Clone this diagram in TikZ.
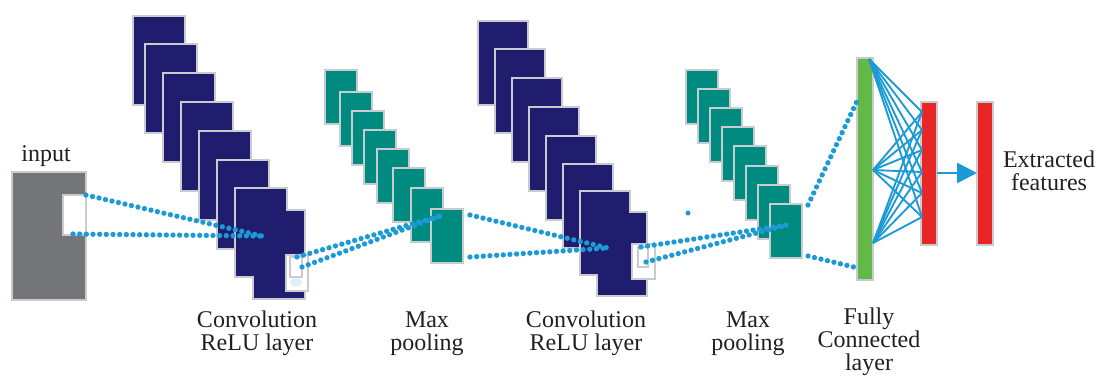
\documentclass[tikz,border=0pt]{standalone}
\usepackage{fontspec}
\setmainfont{Liberation Serif}
\usetikzlibrary{arrows.meta}

\definecolor{navy}{RGB}{32,29,110}
\definecolor{poolteal}{RGB}{0,139,128}
\definecolor{fcgreen}{RGB}{98,185,72}
\definecolor{fcred}{RGB}{233,38,38}
\definecolor{inputgray}{RGB}{116,117,121}
\definecolor{edgegray}{RGB}{200,204,208}
\definecolor{linkblue}{RGB}{28,154,216}
\definecolor{labeltext}{RGB}{35,31,32}

\tikzset{
  fmap/.style={draw=edgegray, line width=1.1pt, inner sep=0pt, outer sep=0pt, anchor=north west},
  convmap/.style={fmap, fill=navy, minimum width=39pt, minimum height=66.75pt},
  convmapb/.style={fmap, fill=navy, minimum width=37.5pt, minimum height=63pt},
  poolmap/.style={fmap, fill=poolteal, minimum width=24pt, minimum height=40.5pt},
  window/.style={fmap, fill=white},
  bar/.style={fmap, minimum width=12pt},
  dotline/.style={linkblue, line width=4pt, line cap=round, dash pattern=on 0pt off 5pt},
  fcline/.style={linkblue, line width=1.4pt},
  % multi-line labels are anchored at the baseline of their last line
  label/.style={font=\fontsize{18}{17}\selectfont, text=labeltext, align=center, inner sep=0pt, anchor=base}
}

\begin{document}
\begin{tikzpicture}[x=0.75pt, y=-0.75pt]
\useasboundingbox (0,0) rectangle (1097,376);

% ---------- input image ----------
\node[fmap, fill=inputgray, minimum width=55.5pt, minimum height=96pt] (in) at (12,172) {};
\node[window, minimum width=17.25pt, minimum height=30pt] (inwin) at (63,195) {};
\node[label] (inlabel) at (46,161) {input};

% ---------- first convolution stack ----------
\foreach \x/\y [count=\i] in {133/16, 145/44, 163/73, 181/102, 199/131, 217/160}
  \node[convmap] (ca\i) at (\x,\y) {};
\node[convmap, draw=none] (ca7) at (235,188) {};
\node[convmap, draw=none] (ca8) at (253,210) {};
\draw[edgegray, line width=1.1pt]
  (ca7.north west) -- (ca7.north east) -- (ca7.north east |- ca8.north)
  -- (ca8.north east) -- (ca8.south east) -- (ca8.south west)
  -- (ca8.south west |- ca7.south) -- (ca7.south west) -- cycle;
\node[window, minimum width=16.5pt, minimum height=27pt] (cawin) at (286,255) {};
\fill[linkblue!15] (296,282) ellipse (6 and 4);
\node[window, minimum width=9pt, minimum height=15pt] (cain) at (290,257) {};

% ---------- first pooling stack ----------
\foreach \x/\y [count=\i] in {325/70, 340/92, 352/111, 364/130, 377/149, 393/168, 411/188, 431/209}
  \node[poolmap] (pa\i) at (\x,\y) {};

% ---------- second convolution stack ----------
\foreach \x/\y [count=\i] in {478/21, 495/49, 512/78, 529/107, 546/136, 563/164}
  \node[convmapb] (cb\i) at (\x,\y) {};
\node[convmapb, draw=none] (cb7) at (580,191) {};
\node[convmapb, draw=none] (cb8) at (597,212) {};
\draw[edgegray, line width=1.1pt]
  (cb7.north west) -- (cb7.north east) -- (cb7.north east |- cb8.north)
  -- (cb8.north east) -- (cb8.south east) -- (cb8.south west)
  -- (cb8.south west |- cb7.south) -- (cb7.south west) -- cycle;
\node[window, minimum width=17.25pt, minimum height=26.25pt] (cbwin) at (632,244) {};
\node[window, minimum width=7.5pt, minimum height=15pt] (cbin) at (638,247) {};

% ---------- second pooling stack ----------
\foreach \x/\y [count=\i] in {686/70, 698/89, 710/108, 722/127, 734/146, 746/166, 758/185, 770/204}
  \node[poolmap] (pb\i) at (\x,\y) {};

% ---------- receptive-field connectors ----------
\coordinate (inlow) at (73,234);
\coordinate (cafocus) at (262,236);
\draw[dotline] (inwin.north east) -- (cafocus);
\draw[dotline] (inlow) -- (cafocus);

\coordinate (caout1) at (297,257);
\coordinate (caout2) at (302,267);
\coordinate (pafocus) at (443,215);
\draw[dotline] (caout1) -- (pafocus);
\draw[dotline] (caout2) -- (pafocus);

\coordinate (paout1) at (470,215);
\coordinate (paout2) at (470,257);
\coordinate (cbfocus) at (608,248);
\draw[dotline] (paout1) -- (cbfocus);
\draw[dotline] (paout2) -- (cbfocus);

\coordinate (cbout1) at (641,247);
\coordinate (cbout2) at (646,262);
\coordinate (pbfocus) at (787,225);
\draw[dotline] (cbout1) -- (pbfocus);
\draw[dotline] (cbout2) -- (pbfocus);

\coordinate (stray) at (688,213);
\fill[linkblue] (stray) circle (2.5);

% ---------- fully connected part ----------
\node[bar, fill=fcgreen, minimum height=166.5pt] (fc) at (857,58) {};
\node[bar, fill=fcred, minimum height=107.25pt] (fa) at (921,102) {};
\node[bar, fill=fcred, minimum height=107.25pt] (fb) at (977,102) {};

\coordinate (pbout1) at (808,205);
\coordinate (pbout2) at (808,256);
\coordinate (fctop) at (858,99);
\coordinate (fcbot) at (858,268);
\draw[dotline] (pbout1) -- (fctop);
\draw[dotline] (pbout2) -- (fcbot);

\coordinate (s1) at (869,59);
\coordinate (s2) at (873,170);
\coordinate (s3) at (873,243);
\foreach \t [count=\j] in {112,130,150,172,193,217}
  \coordinate (t\j) at (922,\t);
\foreach \s in {s1,s2,s3}
  \foreach \j in {1,...,6}
    \draw[fcline] (\s) -- (t\j);

\draw[linkblue, line width=2pt, -{Triangle[length=15pt, width=15pt]}]
  (fa.east |- 0,173) -- (fb.west |- 0,173);

% ---------- labels ----------
\node[label] (l1) at (257,350) {Convolution\\ReLU layer};
\node[label] (l2) at (427,350) {Max\\pooling};
\node[label] (l3) at (586,350) {Convolution\\ReLU layer};
\node[label] (l4) at (748,350) {Max\\pooling};
\node[label] (l5) at (869,370) {Fully\\Connected\\layer};
\node[label] (l6) at (1049,190) {Extracted\\features};
\end{tikzpicture}
\end{document}
